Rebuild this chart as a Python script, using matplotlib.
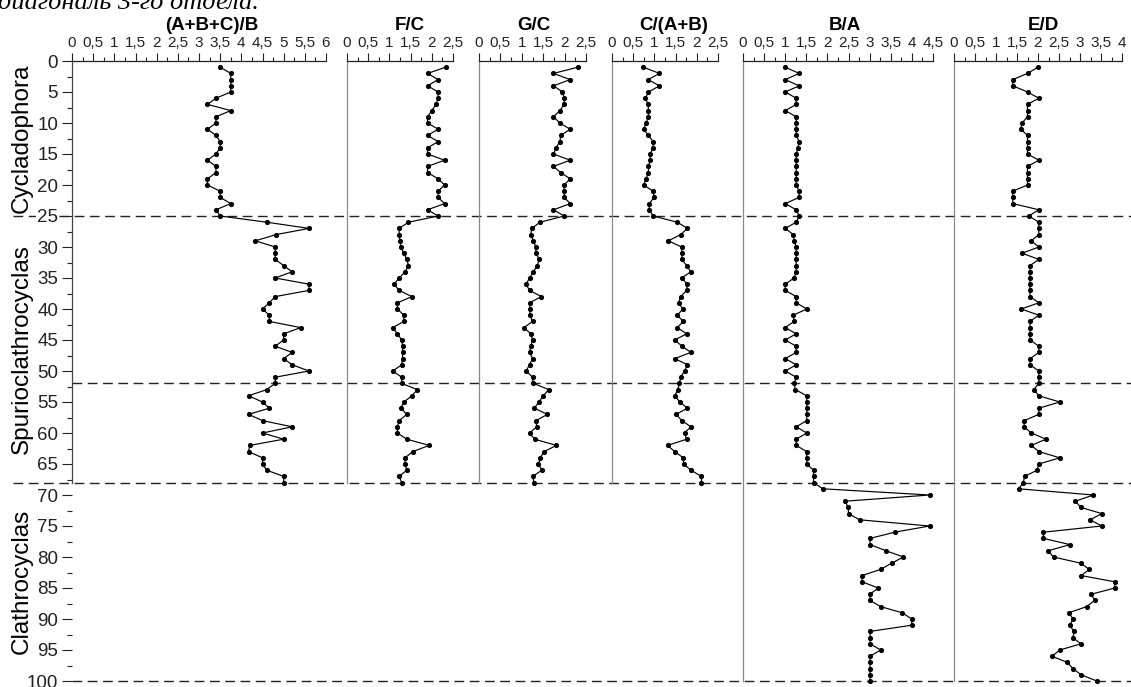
import matplotlib
matplotlib.use("Agg")
import matplotlib.pyplot as plt
import matplotlib.transforms as mtransforms
from matplotlib.lines import Line2D
from matplotlib.ticker import MultipleLocator, FuncFormatter

plt.rcParams['font.family'] = ['Liberation Sans', 'DejaVu Sans']
plt.rcParams['lines.scale_dashes'] = False

# sample depths (one sample per level)
depth_short = list(range(1, 69))
depth_long = list(range(1, 101))

abc_b = [3.5, 3.75, 3.75, 3.75, 3.75, 3.4, 3.2, 3.75, 3.4, 3.4,
         3.2, 3.4, 3.5, 3.5, 3.4, 3.2, 3.4, 3.4, 3.2, 3.2,
         3.5, 3.5, 3.75, 3.4, 3.5, 4.6, 5.6, 4.82, 4.33, 4.8,
         4.8, 4.8, 5.0, 5.2, 4.8, 5.6, 5.6, 4.8, 4.66, 4.5,
         4.66, 4.66, 5.4, 5.0, 5.0, 4.8, 5.2, 5.0, 5.2, 5.6,
         4.8, 4.8, 4.6, 4.17, 4.5, 4.66, 4.17, 4.5, 5.2, 4.5,
         5.0, 4.2, 4.17, 4.5, 4.5, 4.6, 5.0, 5.0]

f_c = [2.33, 1.9, 2.15, 1.9, 2.15, 2.15, 2.1, 2.0, 1.9, 1.9,
       2.15, 1.9, 2.15, 1.9, 1.9, 2.3, 1.9, 1.9, 2.15, 2.3,
       2.15, 2.15, 2.3, 1.9, 2.15, 1.45, 1.23, 1.23, 1.25, 1.27,
       1.34, 1.41, 1.45, 1.37, 1.23, 1.11, 1.23, 1.53, 1.19, 1.19,
       1.34, 1.34, 1.08, 1.19, 1.29, 1.31, 1.31, 1.31, 1.29, 1.08,
       1.29, 1.29, 1.66, 1.53, 1.34, 1.27, 1.41, 1.23, 1.19, 1.19,
       1.41, 1.94, 1.55, 1.37, 1.37, 1.41, 1.23, 1.29]

g_c = [2.31, 1.74, 2.13, 1.74, 1.95, 1.99, 1.99, 1.89, 1.74, 1.89,
       2.13, 1.91, 1.89, 1.8, 1.74, 2.13, 1.74, 1.91, 2.13, 1.99,
       1.99, 1.99, 2.13, 1.74, 1.99, 1.43, 1.23, 1.21, 1.27, 1.33,
       1.33, 1.41, 1.36, 1.27, 1.18, 1.10, 1.18, 1.46, 1.18, 1.19,
       1.19, 1.25, 1.05, 1.21, 1.25, 1.21, 1.18, 1.25, 1.18, 1.10,
       1.25, 1.27, 1.63, 1.5, 1.4, 1.29, 1.6, 1.33, 1.35, 1.18,
       1.30, 1.81, 1.52, 1.43, 1.39, 1.47, 1.25, 1.29]

c_ab = [0.74, 1.12, 0.85, 1.12, 0.86, 0.79, 0.85, 0.86, 0.86, 0.8,
        0.75, 0.86, 0.97, 0.97, 0.9, 0.9, 0.86, 0.86, 0.8, 0.75,
        0.97, 0.99, 0.88, 0.88, 0.97, 1.54, 1.78, 1.62, 1.33, 1.64,
        1.65, 1.65, 1.76, 1.86, 1.64, 1.78, 1.76, 1.62, 1.57, 1.67,
        1.54, 1.68, 1.54, 1.76, 1.48, 1.65, 1.86, 1.48, 1.78, 1.71,
        1.62, 1.59, 1.55, 1.48, 1.6, 1.78, 1.51, 1.65, 1.86, 1.71,
        1.76, 1.31, 1.48, 1.68, 1.69, 1.86, 2.11, 2.11]

b_a = [1.0, 1.33, 1.0, 1.33, 1.0, 1.26, 1.26, 1.0, 1.26, 1.26,
       1.26, 1.26, 1.33, 1.3, 1.26, 1.26, 1.26, 1.26, 1.26, 1.26,
       1.33, 1.33, 1.0, 1.26, 1.33, 1.26, 1.0, 1.19, 1.21, 1.26,
       1.26, 1.26, 1.26, 1.26, 1.21, 1.0, 1.0, 1.26, 1.26, 1.51,
       1.19, 1.21, 1.0, 1.26, 1.0, 1.26, 1.26, 1.0, 1.26, 1.0,
       1.26, 1.21, 1.24, 1.51, 1.51, 1.51, 1.51, 1.51, 1.26, 1.51,
       1.26, 1.26, 1.51, 1.51, 1.51, 1.67, 1.67, 1.67, 1.89, 4.42,
       2.42, 2.49, 2.5, 2.76, 4.42, 3.59, 3.01, 3.01, 3.39, 3.8,
       3.52, 3.26, 2.82, 2.82, 3.2, 3.01, 3.01, 3.26, 3.77, 4.0,
       4.0, 3.01, 3.01, 3.01, 3.26, 3.01, 3.01, 3.01, 3.01, 3.01]

e_d = [2.0, 1.75, 1.40, 1.40, 1.75, 2.02, 1.75, 1.75, 1.75, 1.62,
       1.59, 1.75, 1.75, 1.75, 1.75, 2.02, 1.75, 1.75, 1.75, 1.75,
       1.40, 1.40, 1.40, 2.02, 1.78, 2.02, 2.02, 2.02, 1.84, 2.02,
       1.62, 2.02, 1.81, 1.81, 1.81, 1.81, 1.81, 1.81, 2.02, 1.60,
       2.02, 1.81, 1.81, 1.81, 1.81, 2.02, 2.02, 1.81, 1.81, 2.02,
       2.02, 2.02, 1.90, 2.02, 2.52, 2.02, 2.02, 1.67, 1.67, 1.84,
       2.19, 1.84, 2.02, 2.52, 2.02, 1.98, 1.68, 1.65, 1.54, 3.32,
       2.89, 3.02, 3.52, 3.24, 3.52, 2.13, 2.13, 2.76, 2.24, 2.37,
       3.02, 3.22, 3.03, 3.83, 3.83, 3.27, 3.35, 3.16, 2.73, 2.84,
       2.75, 2.86, 2.83, 3.02, 2.52, 2.33, 2.70, 2.83, 3.03, 3.40]

titles = ['(A+B+C)/B', 'F/C', 'G/C', 'C/(A+B)', 'B/A', 'E/D']
x_max = [6, 2.5, 2.5, 2.5, 4.5, 4]
series = [abc_b, f_c, g_c, c_ab, b_a, e_d]
depths = [depth_short] * 4 + [depth_long] * 2

zone_names = ['Cycladophora', 'Spurioclathrocyclas', 'Clathrocyclas']
zone_limits = [(0, 25), (25, 68), (68, 100)]
boundaries = [25, 52, 68, 100]
boundary_to_margin = [True, False, True, False]

# layout in pixels
W, H = 1131, 687
y_top, y_bot = 61, 681
panel_px = [(72, 326), (347, 453), (479, 586), (612, 718), (743, 933), (954, 1122)]
title_px = [212, 410, 534, 674, 845, 1043]

fig = plt.figure(figsize=(W / 100, H / 100), dpi=100)

comma = FuncFormatter(lambda v, pos: f"{v:g}".replace('.', ','))

axes = []
for i, (x0, x1) in enumerate(panel_px):
    ax = fig.add_axes([x0 / W, 1 - y_bot / H, (x1 - x0) / W, (y_bot - y_top) / H])
    ax.patch.set_visible(False)
    ax.set_xlim(0, x_max[i])
    ax.set_ylim(100, 0)

    ax.plot(series[i], depths[i], '-o', color='black', lw=0.85, ms=2.7,
            clip_on=False, zorder=3)

    ax.xaxis.tick_top()
    ax.xaxis.set_major_locator(MultipleLocator(0.5))
    ax.xaxis.set_minor_locator(MultipleLocator(0.25))
    ax.xaxis.set_major_formatter(comma)
    ax.tick_params(axis='x', which='major', direction='out', length=5.5,
                   width=0.8, labelsize=11, pad=2.5, colors='#222')
    ax.tick_params(axis='x', which='minor', direction='out', length=3,
                   width=0.8, colors='#222')

    for s in ['right', 'bottom']:
        ax.spines[s].set_visible(False)
    ax.spines['top'].set_color('#222')
    ax.spines['top'].set_linewidth(0.9)
    ax.spines['left'].set_linewidth(0.9)
    ax.spines['left'].set_bounds(0, max(depths[i]))

    if i == 0:
        ax.yaxis.set_major_locator(MultipleLocator(5))
        ax.yaxis.set_minor_locator(MultipleLocator(2.5))
        ax.tick_params(axis='y', which='major', direction='out', length=7,
                       width=0.8, labelsize=13.5, pad=3, colors='#222')
        ax.tick_params(axis='y', which='minor', direction='out', length=3.5,
                       width=0.8, colors='#222')
        ax.spines['left'].set_color('#444')
    else:
        ax.tick_params(axis='y', which='both', left=False, labelleft=False)
        ax.spines['left'].set_color('#8a8a8a')

    fig.text(title_px[i] / W, 1 - 26 / H, titles[i], ha='center', va='center',
             fontsize=13.5, fontweight='bold')
    axes.append(ax)

ax1 = axes[0]
trans = mtransforms.blended_transform_factory(fig.transFigure, ax1.transData)

# horizontal dashed boundaries
for b, to_margin in zip(boundaries, boundary_to_margin):
    xs = (13 / W if to_margin else 72 / W, 1.0)
    line = Line2D(xs, [b, b], transform=trans, color='#222', lw=1.0,
                  dashes=(7, 4), zorder=-1)
    fig.add_artist(line)

# zone names on the left
for name, (a, b) in zip(zone_names, zone_limits):
    fig.text(22 / W, (a + b) / 2, name, transform=trans, rotation=90,
             ha='center', va='center', fontsize=17.5)

fig.text(-2 / W, 1 - 9 / H, 'диагональ 3-го отдела.', ha='left', va='baseline',
         fontsize=19, style='italic', family=['Liberation Serif', 'DejaVu Serif'])

fig.canvas.draw()
for lbl in ax1.get_yticklabels():
    lbl.set_bbox(dict(facecolor='white', edgecolor='none', pad=0.5))

fig.savefig('out.png', dpi=100)
